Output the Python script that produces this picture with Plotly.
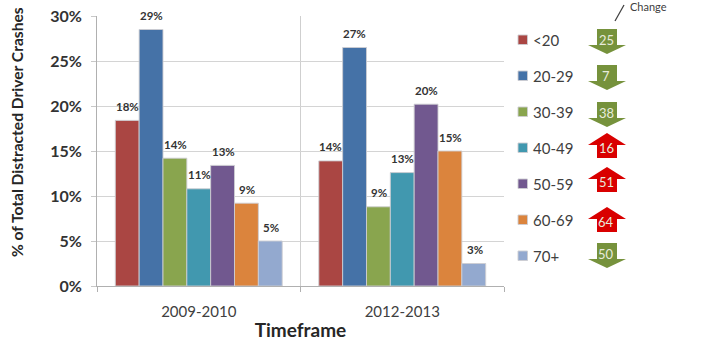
import plotly.graph_objects as go

# Share of distracted-driver crashes by driver age group
timeframes = ["2009-2010", "2012-2013"]
age_groups = ["<20", "20-29", "30-39", "40-49", "50-59", "60-69", "70+"]
share_2009 = [18.4, 28.5, 14.2, 10.8, 13.4, 9.2, 5.0]
share_2012 = [13.9, 26.5, 8.8, 12.6, 20.2, 15.0, 2.5]
colors = ["#AA4643", "#4572A7", "#89A54E", "#4198AF", "#71588F", "#DB843D", "#93A9CF"]

# Percent change between the two periods, one arrow per age group
change = [25, 7, 38, 16, 51, 64, 50]
direction = ["down", "down", "down", "up", "up", "up", "down"]

W, H = 703, 341
L, R, T, B = 97, 504, 16, 286
TEXT = "#404040"
FONT = "Lato"


def px(x):
    return (x - L) / (R - L)


def py(y):
    return (B - y) / (B - T)


fig = go.Figure()
for i, group in enumerate(age_groups):
    fig.add_bar(
        x=timeframes,
        y=[share_2009[i], share_2012[i]],
        name=group,
        marker=dict(color=colors[i], line=dict(color="rgba(205,205,210,0.9)", width=1)),
    )

annotations = []
# Value labels above each bar
for values, frame in zip((share_2009, share_2012), timeframes):
    for i, v in enumerate(values):
        annotations.append(dict(
            x=frame, y=v, xref="x", yref="y", text=f"{int(v + 0.5)}%", showarrow=False,
            xshift=(i - 3) * 24 + 0.5, yshift=14, yanchor="middle", xanchor="center",
            font=dict(family=FONT, size=11.5, color="#333333", weight="bold"),
        ))

shapes = []
# Hand-built legend: swatch and label per age group
row_y = [40, 76, 112, 148, 184, 220, 256]
for group, color, y in zip(age_groups, colors, row_y):
    shapes.append(dict(
        type="rect", xref="paper", yref="paper",
        x0=px(518), x1=px(527.5), y0=py(y - 5), y1=py(y + 4.5),
        fillcolor=color, line=dict(color="rgba(205,205,210,0.9)", width=1),
    ))
    annotations.append(dict(
        x=px(531), y=py(y), xref="paper", yref="paper", text=group, showarrow=False,
        xanchor="left", yanchor="middle", font=dict(family=FONT, size=15, color=TEXT),
    ))

# Block arrows showing the change for each age group
GREEN, RED = "#76923C", "#D90000"
arrow_y = [29, 65, 102, 133, 167, 207, 243]
for value, way, top in zip(change, direction, arrow_y):
    cx = 607
    if way == "down":
        pts = [(cx - 10, top), (cx + 10, top), (cx + 10, top + 16), (cx + 19, top + 16),
               (cx, top + 25), (cx - 19, top + 16), (cx - 10, top + 16)]
        label_y = top + 11
        fill = GREEN
    else:
        pts = [(cx, top), (cx + 19, top + 12), (cx + 10, top + 12), (cx + 10, top + 25),
               (cx - 10, top + 25), (cx - 10, top + 12), (cx - 19, top + 12)]
        label_y = top + 15
        fill = RED
    path = "M" + " L".join(f"{px(a):.5f},{py(b):.5f}" for a, b in pts) + " Z"
    shapes.append(dict(type="path", xref="paper", yref="paper", path=path, layer="below",
                       fillcolor=fill, line=dict(width=0)))
    annotations.append(dict(
        x=px(cx - 1), y=py(label_y), xref="paper", yref="paper", text=str(value),
        showarrow=False, xanchor="center", yanchor="middle",
        font=dict(family=FONT, size=13, color="#E8EBDD"),
    ))

# Header of the arrow column with its leader line
shapes.append(dict(type="line", xref="paper", yref="paper",
                   x0=px(615), y0=py(21), x1=px(624), y1=py(5),
                   line=dict(color="#404040", width=1.3)))
annotations.append(dict(
    x=px(648), y=py(6), xref="paper", yref="paper", text="Change", showarrow=False,
    xanchor="center", yanchor="middle", font=dict(family=FONT, size=11, color=TEXT),
))

# Value-axis caption placed by hand, it sits above the axis midpoint
annotations.append(dict(
    x=px(17), y=py(132), xref="paper", yref="paper", showarrow=False, textangle=-90,
    text="% of Total Distracted Driver Crashes", xanchor="center", yanchor="middle",
    font=dict(family=FONT, size=15.6, color="#262626", weight="bold"),
))

fig.update_layout(
    width=W, height=H,
    margin=dict(l=L, r=W - R, t=T, b=H - B, pad=0),
    paper_bgcolor="white", plot_bgcolor="white",
    barmode="group", bargap=0.18, bargroupgap=0,
    showlegend=False,
    annotations=annotations, shapes=shapes,
    font=dict(family=FONT, color=TEXT),
    xaxis=dict(
        tickson="boundaries", ticks="outside", ticklen=5, tickcolor="#B0B0B0",
        showgrid=True, gridcolor="#CFCFCF", gridwidth=1,
        showline=True, linecolor="#B0B0B0",
        ticklabelstandoff=12,
        tickfont=dict(family=FONT, size=15, color=TEXT),
        title=dict(text="Timeframe", standoff=4,
                   font=dict(family=FONT, size=19, color="#262626", weight="bold")),
        automargin=False,
    ),
    yaxis=dict(
        range=[0, 30], dtick=5, ticksuffix="%",
        ticks="outside", ticklen=5, tickcolor="#C8C8C8",
        showgrid=True, gridcolor="#D4D4D4", gridwidth=1,
        showline=True, linecolor="#B0B0B0", zeroline=False,
        ticklabelstandoff=6,
        tickfont=dict(family=FONT, size=16, color="#333333", weight="bold"),
        automargin=False,
    ),
)

fig.write_html("out.html")
